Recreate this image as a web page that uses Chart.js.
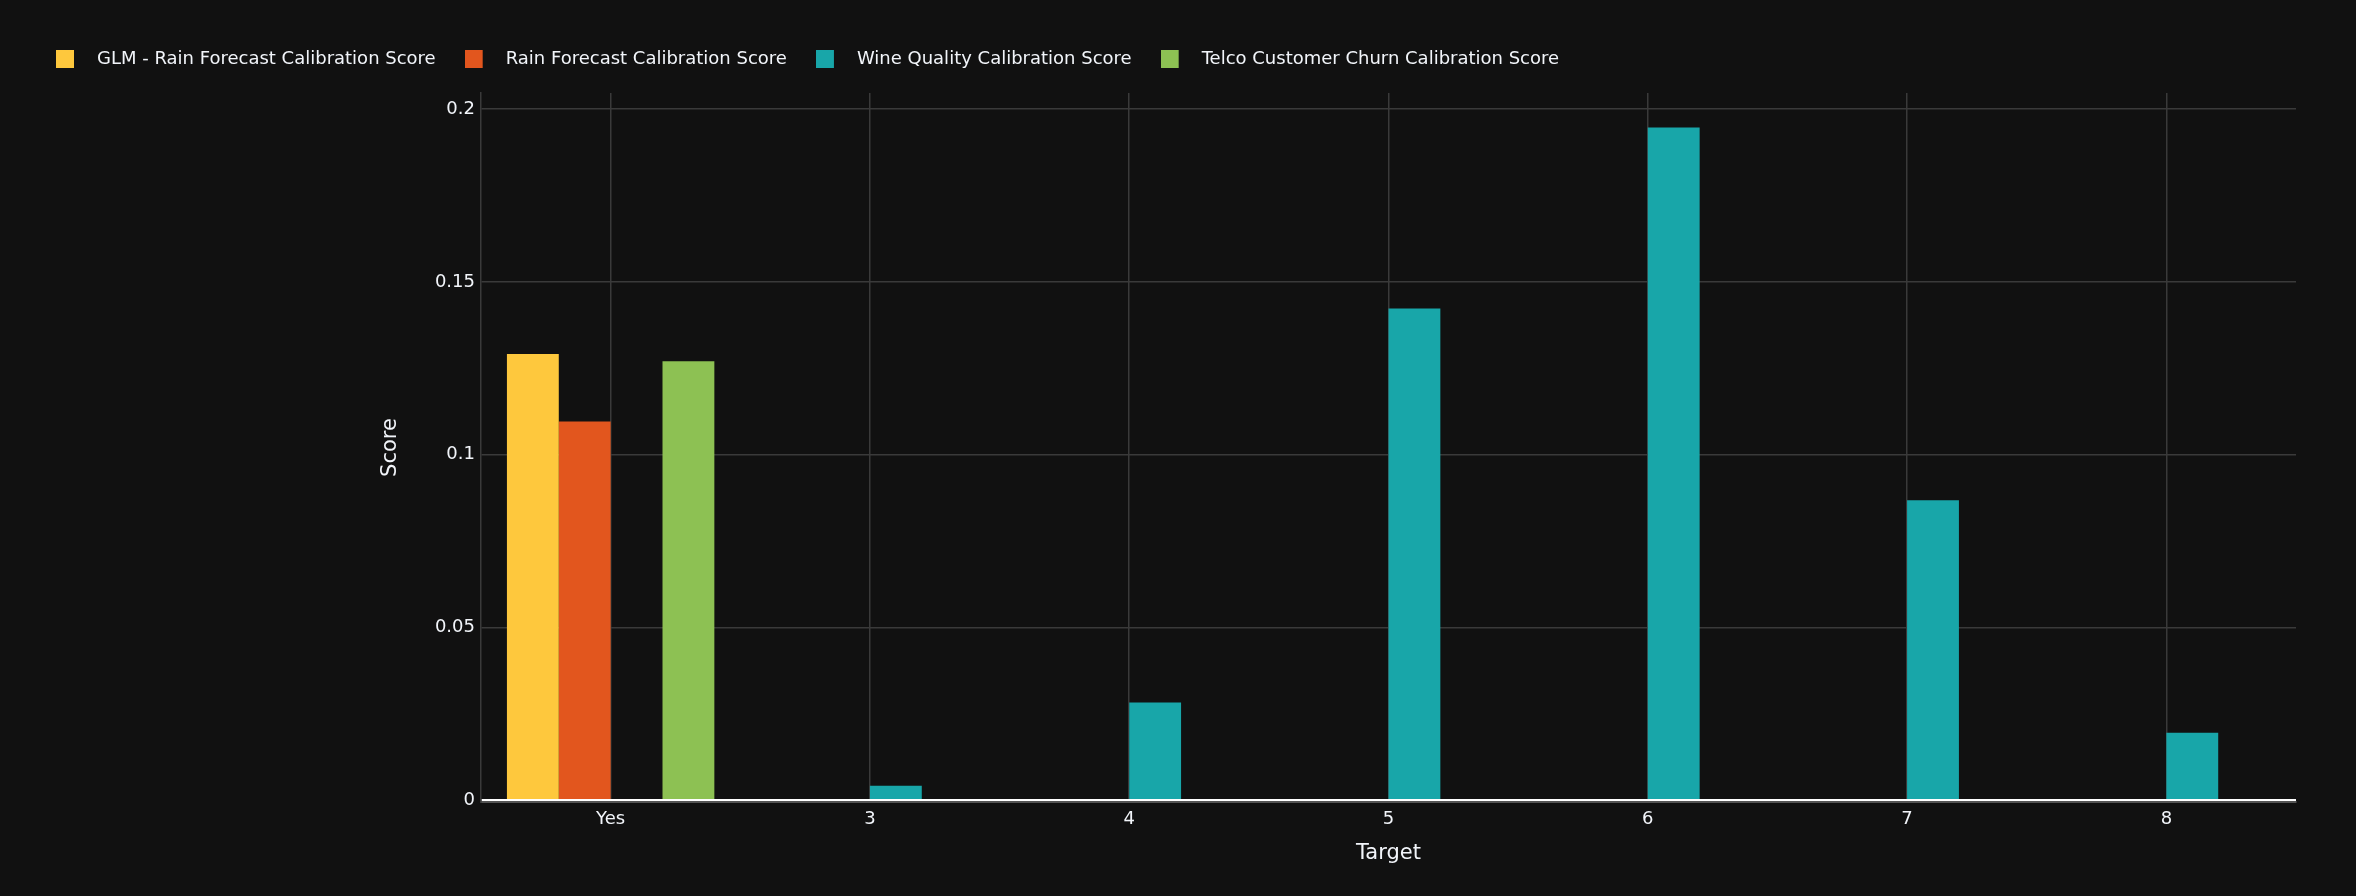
<!DOCTYPE html>
<html>
<head>
<meta charset="utf-8">
<script src="https://cdn.jsdelivr.net/npm/chart.js@4/dist/chart.umd.min.js"></script>
<style>
  html, body { margin: 0; padding: 0; background: #111111; }
  #wrap { width: 2356px; height: 896px; position: relative; }
</style>
</head>
<body>
<div id="wrap"><canvas id="c"></canvas></div>
<script>
const categories = ['Yes', '3', '4', '5', '6', '7', '8'];
const glmRain = [0.1291, null, null, null, null, null, null];
const rainForecast = [0.1096, null, null, null, null, null, null];
const wineQuality = [null, 0.0041, 0.0282, 0.1423, 0.1947, 0.0868, 0.0195];
const telcoChurn = [0.1270, null, null, null, null, null, null];
const seriesNames = [
  'GLM - Rain Forecast Calibration Score',
  'Rain Forecast Calibration Score',
  'Wine Quality Calibration Score',
  'Telco Customer Churn Calibration Score'
];
const yTickValues = [0, 0.05, 0.1, 0.15, 0.2];

const colors = ['#FEC83D', '#E2561E', '#18A6A9', '#8DC153'];
const gridColor = '#3a3a3a';
const textColor = '#f2f5fa';
const FONT = '"DejaVu Sans", Verdana, sans-serif';

function legendSwatch(color) {
  const cv = document.createElement('canvas');
  cv.width = 32; cv.height = 18;
  const g = cv.getContext('2d');
  g.fillStyle = color;
  g.fillRect(0, 0, 18, 18);
  return cv;
}
const swatches = colors.map(legendSwatch);

const legendHeightPlugin = {
  id: 'legendHeight',
  beforeUpdate(chart) {
    const l = chart.legend;
    if (l && !l._patched) {
      const orig = l.fit;
      l.fit = function () { orig.call(this); this.height = 72; };
      l._patched = true;
    }
  }
};

const ctx = document.getElementById('c');
new Chart(ctx, {
  type: 'bar',
  data: {
    labels: categories,
    datasets: [
      { label: seriesNames[0], data: glmRain, backgroundColor: colors[0] },
      { label: seriesNames[1], data: rainForecast, backgroundColor: colors[1] },
      { label: seriesNames[2], data: wineQuality, backgroundColor: colors[2] },
      { label: seriesNames[3], data: telcoChurn, backgroundColor: colors[3] }
    ]
  },
  plugins: [legendHeightPlugin],
  options: {
    responsive: true,
    maintainAspectRatio: false,
    animation: false,
    devicePixelRatio: 1,
    datasets: { bar: { categoryPercentage: 0.8, barPercentage: 1.0, borderWidth: 0 } },
    layout: { padding: { left: 27, right: 60, top: 21, bottom: 0 } },
    plugins: {
      tooltip: { enabled: false },
      legend: {
        position: 'top',
        align: 'start',
        labels: {
          color: textColor,
          font: { family: FONT, size: 18 },
          padding: 29,
          usePointStyle: true,
          pointStyleWidth: 32,
          boxHeight: 18,
          generateLabels(chart) {
            const items = Chart.defaults.plugins.legend.labels.generateLabels(chart);
            items.forEach(it => { it.pointStyle = swatches[it.datasetIndex]; it.fontColor = textColor; });
            return items;
          }
        }
      }
    },
    scales: {
      x: {
        grid: { color: gridColor, offset: false, drawTicks: false, lineWidth: 1.5 },
        border: { display: true, color: '#555555', width: 2 },
        ticks: { color: textColor, font: { family: FONT, size: 18 }, padding: 7, maxRotation: 0 },
        title: { display: true, text: 'Target', color: textColor, font: { family: FONT, size: 21 }, padding: { top: 0, bottom: 30 } },
        afterFit(scale) { scale.height = 94; }
      },
      y: {
        min: -0.00058,
        max: 0.2047,
        grid: {
          drawTicks: false,
          color: c => (c.tick && Math.abs(c.tick.value) < 1e-9 ? '#ffffff' : gridColor),
          lineWidth: c => (c.tick && Math.abs(c.tick.value) < 1e-9 ? 2 : 1.5)
        },
        border: { display: true, color: gridColor, width: 1.5 },
        ticks: {
          color: textColor,
          font: { family: FONT, size: 18 },
          padding: 6,
          callback: v => String(+v.toFixed(2))
        },
        afterBuildTicks(scale) {
          scale.ticks = yTickValues.map(v => ({ value: v }));
        },
        title: { display: true, text: 'Score', color: textColor, font: { family: FONT, size: 21 }, padding: { top: 351, bottom: 0 } },
        afterFit(scale) { scale.width = 454; }
      }
    }
  }
});
</script>
</body>
</html>
